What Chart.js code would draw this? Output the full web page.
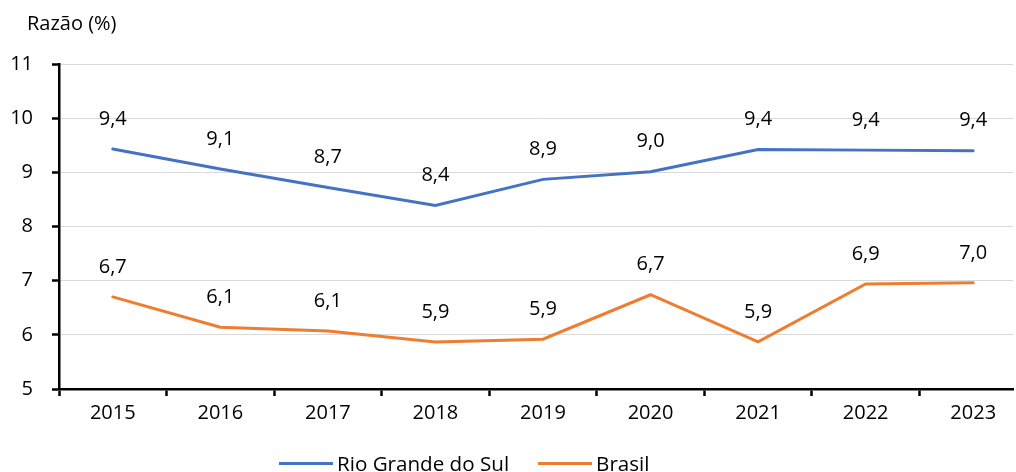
<!DOCTYPE html>
<html>
<head>
<meta charset="utf-8">
<script src="https://cdn.jsdelivr.net/npm/chart.js@4.4.1/dist/chart.umd.min.js"></script>
<style>
  body { margin: 0; background: #fff; font-family: "Open Sans", sans-serif; color: #000; }
  #wrap { position: relative; width: 1016px; height: 472px; overflow: hidden; }
  #axis-title { position: absolute; left: 27px; top: 11px; font-size: 20px; line-height: 24px; }
  #legend { position: absolute; left: 279px; top: 451px; display: flex; align-items: center; font-size: 20.6px; line-height: 24px; }
  .legend-item { display: flex; align-items: center; margin-right: 29px; }
  .legend-line { width: 54px; height: 3px; margin-right: 4px; }
</style>
</head>
<body>
<div id="wrap">
  <canvas id="chart" width="1016" height="472"></canvas>
  <div id="axis-title">Razão (%)</div>
  <div id="legend"></div>
</div>
<script>
var years = [2015, 2016, 2017, 2018, 2019, 2020, 2021, 2022, 2023];
var seriesNames = ['Rio Grande do Sul', 'Brasil'];
var rsValues = [9.43, 9.06, 8.72, 8.39, 8.87, 9.01, 9.42, 9.41, 9.40];
var brValues = [6.70, 6.14, 6.07, 5.87, 5.92, 6.74, 5.87, 6.94, 6.96];
var seriesColors = ['#4472C4', '#ED7D31'];
var yTicks = [5, 6, 7, 8, 9, 10, 11];

var textColor = '#000';
var fontFamily = '"Open Sans", sans-serif';

function toPoints(values) {
  var pts = [];
  for (var i = 0; i < years.length; i++) {
    pts.push({ x: years[i], y: values[i] });
  }
  return pts;
}

// labels above each point, comma decimal
var valueLabels = {
  id: 'valueLabels',
  afterDatasetsDraw: function(chart) {
    var ctx = chart.ctx;
    ctx.save();
    ctx.font = '20px ' + fontFamily;
    ctx.fillStyle = textColor;
    ctx.textAlign = 'center';
    ctx.textBaseline = 'middle';
    chart.data.datasets.forEach(function(ds, i) {
      chart.getDatasetMeta(i).data.forEach(function(pt, j) {
        ctx.fillText(ds.data[j].y.toFixed(1).replace('.', ','), pt.x, pt.y - 30);
      });
    });
    ctx.restore();
  }
};

var chart = new Chart(document.getElementById('chart').getContext('2d'), {
  type: 'line',
  data: {
    datasets: [
      { label: seriesNames[0], data: toPoints(rsValues), borderColor: seriesColors[0], borderWidth: 3, pointRadius: 0, tension: 0, borderCapStyle: 'round' },
      { label: seriesNames[1], data: toPoints(brValues), borderColor: seriesColors[1], borderWidth: 3, pointRadius: 0, tension: 0, borderCapStyle: 'round' }
    ]
  },
  options: {
    responsive: false,
    animation: false,
    layout: { padding: { top: 64, right: 3, bottom: 0, left: 0 } },
    plugins: { legend: { display: false }, tooltip: { enabled: false } },
    scales: {
      x: {
        type: 'linear',
        min: years[0] - 0.5,
        max: years[years.length - 1] + 0.37,
        afterFit: function(scale) { scale.height = 83; },
        afterBuildTicks: function(scale) {
          var t = [];
          for (var i = 0; i < years.length; i++) {
            t.push({ value: years[i] - 0.5 });
            t.push({ value: years[i] });
          }
          scale.ticks = t;
        },
        border: { color: '#000', width: 2.5 },
        grid: {
          drawOnChartArea: false,
          tickLength: 7,
          tickWidth: 2.5,
          tickColor: function(c) { return (c.tick && c.tick.value % 1 === 0) ? 'rgba(0,0,0,0)' : '#000'; }
        },
        ticks: {
          autoSkip: false,
          maxRotation: 0,
          padding: 5,
          color: textColor,
          font: { family: fontFamily, size: 20 },
          callback: function(v) { return v % 1 === 0 ? String(v) : ''; }
        }
      },
      y: {
        min: yTicks[0],
        max: yTicks[yTicks.length - 1],
        afterFit: function(scale) { scale.width = 59; },
        border: { color: '#000', width: 2.5 },
        grid: { color: '#d9d9d9', lineWidth: 1, tickColor: '#000', tickWidth: 2.5, tickLength: 7 },
        ticks: {
          stepSize: 1,
          padding: 19,
          color: textColor,
          font: { family: fontFamily, size: 20 }
        }
      }
    }
  },
  plugins: [valueLabels]
});

var legend = document.getElementById('legend');
for (var i = 0; i < seriesNames.length; i++) {
  var item = document.createElement('div');
  item.className = 'legend-item';
  var line = document.createElement('span');
  line.className = 'legend-line';
  line.style.background = seriesColors[i];
  var txt = document.createElement('span');
  txt.textContent = seriesNames[i];
  item.appendChild(line);
  item.appendChild(txt);
  legend.appendChild(item);
}
</script>
</body>
</html>
